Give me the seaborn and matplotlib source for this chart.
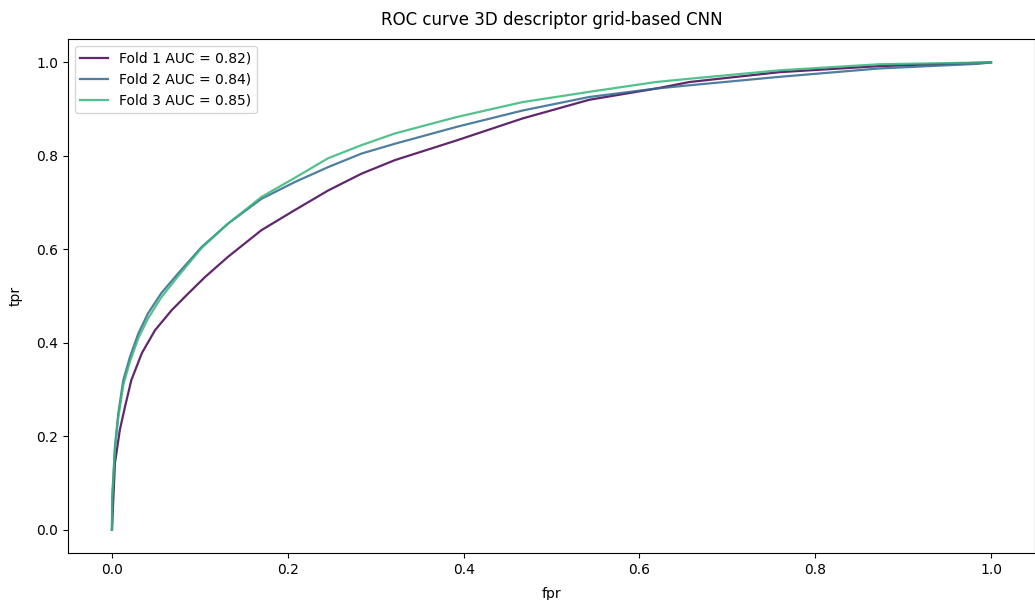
import matplotlib
matplotlib.use("Agg")
import matplotlib.pyplot as plt
import seaborn as sns
import pandas as pd

title = "ROC curve 3D descriptor grid-based CNN"
fold_names = ["Fold 1", "Fold 2", "Fold 3"]
aucs = [0.82, 0.84, 0.85]

fold1_fpr = [0, 0.0034, 0.009, 0.0148, 0.022, 0.034, 0.049, 0.068, 0.087, 0.106, 0.132, 0.170,
             0.208, 0.246, 0.284, 0.322, 0.392, 0.467, 0.543, 0.619, 0.657, 0.759, 0.873, 1.0]
fold1_tpr = [0, 0.143, 0.214, 0.263, 0.32, 0.378, 0.427, 0.47, 0.506, 0.541, 0.584, 0.641,
             0.684, 0.726, 0.762, 0.791, 0.833, 0.880, 0.920, 0.944, 0.958, 0.979, 0.992, 1.0]

fold2_fpr = [0, 0.0004, 0.0034, 0.0072, 0.0129, 0.0205, 0.030, 0.041, 0.056, 0.075, 0.102, 0.132,
             0.170, 0.208, 0.246, 0.284, 0.322, 0.392, 0.467, 0.543, 0.619, 0.657, 0.759, 0.873,
             0.986, 1.0]
fold2_tpr = [0, 0.071, 0.178, 0.249, 0.32, 0.37, 0.42, 0.463, 0.506, 0.548, 0.605, 0.655,
             0.708, 0.744, 0.776, 0.805, 0.826, 0.862, 0.897, 0.926, 0.944, 0.951, 0.969, 0.987,
             0.997, 1.0]

fold3_fpr = [0, 0.0004, 0.0034, 0.0072, 0.0129, 0.0205, 0.030, 0.041, 0.056, 0.075, 0.102, 0.132,
             0.170, 0.208, 0.246, 0.284, 0.322, 0.392, 0.467, 0.543, 0.619, 0.657, 0.759, 0.873, 1.0]
fold3_tpr = [0, 0.068, 0.172, 0.240, 0.31, 0.36, 0.41, 0.452, 0.497, 0.542, 0.603, 0.655,
             0.712, 0.753, 0.795, 0.823, 0.848, 0.883, 0.915, 0.937, 0.958, 0.965, 0.983, 0.996, 1.0]

colors = ["#440154", "#31688e", "#35b779"]

fig, ax = plt.subplots(figsize=(10.35, 6), dpi=100)
fig.subplots_adjust(left=0.0657, right=1.0, top=0.935, bottom=0.078)

folds = [(fold1_fpr, fold1_tpr), (fold2_fpr, fold2_tpr), (fold3_fpr, fold3_tpr)]
for (fpr, tpr), name, auc, c in zip(folds, fold_names, aucs, colors):
    df = pd.DataFrame({"fpr": fpr, "tpr": tpr})
    sns.lineplot(data=df, x="fpr", y="tpr", ax=ax, color=c, alpha=0.85, linewidth=1.6,
                 sort=False, estimator=None, label=f"{name} AUC = {auc:.2f})")

ax.set_xlim(-0.05, 1.05)
ax.set_ylim(-0.05, 1.05)
ax.set_xticks([0.0, 0.2, 0.4, 0.6, 0.8, 1.0])
ax.set_yticks([0.0, 0.2, 0.4, 0.6, 0.8, 1.0])
ax.set_xlabel("fpr", labelpad=7)
ax.set_ylabel("tpr", labelpad=10)
ax.set_title(title, pad=10)
ax.legend(loc="upper left")

fig.savefig("out.png", dpi=100)
